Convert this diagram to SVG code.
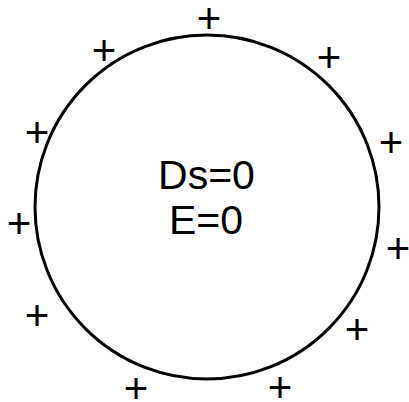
<svg xmlns="http://www.w3.org/2000/svg" width="409" height="402" viewBox="0 0 409 402">
<style>
.p{font-family:"Liberation Sans",Arial,sans-serif;font-size:42px;fill:#000;text-anchor:middle}
.t{font-family:"Liberation Sans",Arial,sans-serif;font-size:41px;fill:#000;text-anchor:middle}
</style>
<rect width="409" height="402" fill="#fff"/>
<g id="sphere">
<circle cx="207" cy="207" r="172" fill="none" stroke="#000" stroke-width="3"/>
<text class="t" x="206.5" y="189">Ds=0</text>
<text class="t" x="206" y="234">E=0</text>
</g>
<g id="charges">
<text class="p" x="209" y="33">+</text>
<text class="p" x="104" y="65">+</text>
<text class="p" x="329" y="72">+</text>
<text class="p" x="37" y="147">+</text>
<text class="p" x="391" y="157">+</text>
<text class="p" x="19" y="238">+</text>
<text class="p" x="398" y="263">+</text>
<text class="p" x="37" y="330">+</text>
<text class="p" x="357" y="344">+</text>
<text class="p" x="136" y="403">+</text>
<text class="p" x="280" y="402">+</text>
</g>
</svg>
